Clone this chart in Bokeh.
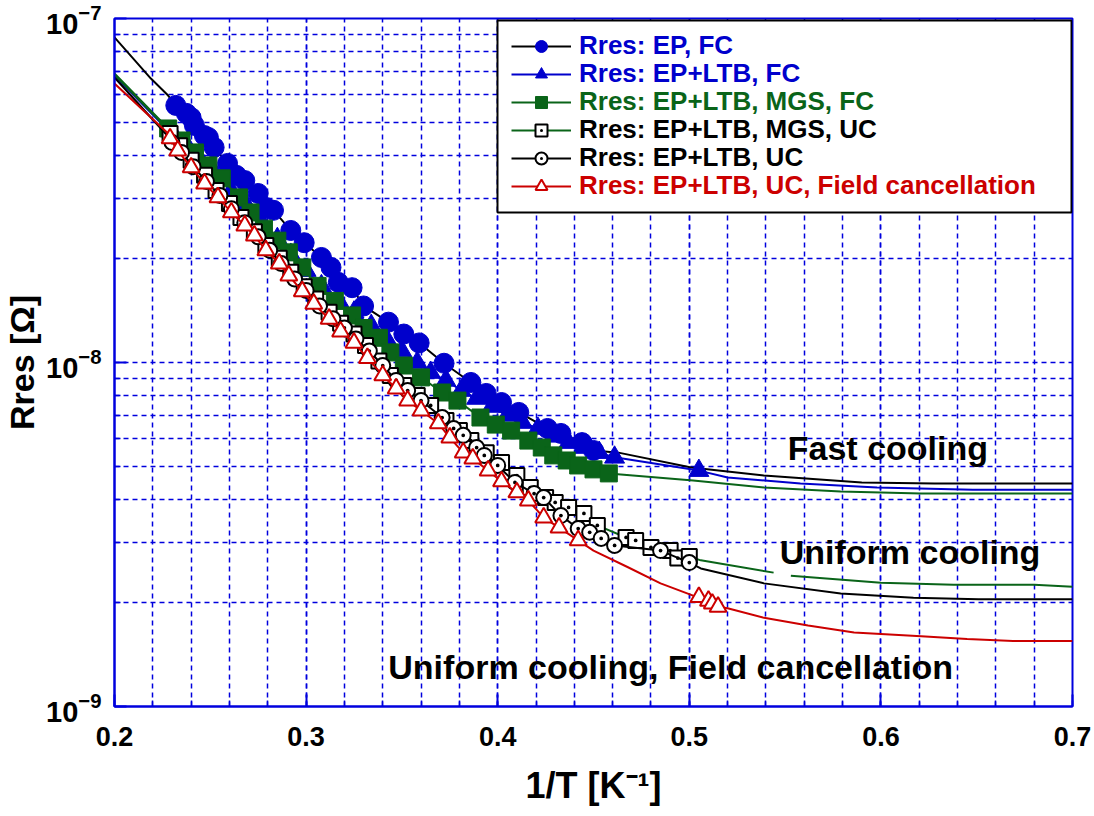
import numpy as np
from bokeh.plotting import figure
from bokeh.models import (Range1d, FixedTicker, LogTickFormatter, Legend, LegendItem,
                          Label, BoxAnnotation)
from bokeh.embed import file_html
from bokeh.resources import INLINE

FONT = "Liberation Sans"
BLUE = "#0000CC"
GREEN = "#0A6419"
RED = "#CC0000"
GRID = "#0000DD"

# ---------------- data (1/T in 1/K, Rres in Ohm) ----------------
# Rres: EP, FC
ep_fc_x = [0.232, 0.2375, 0.240, 0.2417, 0.2469, 0.249, 0.252, 0.259, 0.2636, 0.268, 0.275,
           0.2792, 0.283, 0.292, 0.299, 0.308, 0.313, 0.3168, 0.324, 0.330, 0.343, 0.351, 0.359,
           0.372, 0.386, 0.394, 0.402, 0.411, 0.426, 0.433, 0.444, 0.450]
ep_fc_y = [5.59e-8, 5.30e-8, 5.15e-8, 4.89e-8, 4.57e-8, 4.51e-8, 4.22e-8, 3.79e-8, 3.50e-8,
           3.38e-8, 3.10e-8, 2.82e-8, 2.77e-8, 2.42e-8, 2.23e-8, 2.02e-8, 1.89e-8, 1.71e-8,
           1.65e-8, 1.46e-8, 1.31e-8, 1.21e-8, 1.14e-8, 9.95e-9, 8.75e-9, 8.13e-9, 7.65e-9,
           7.16e-9, 6.43e-9, 6.22e-9, 5.85e-9, 5.55e-9]
ep_fc_lead_x = [0.200, 0.219, 0.228]
ep_fc_lead_y = [8.81e-8, 6.69e-8, 5.97e-8]
ep_fc_tail_x = [0.463, 0.501, 0.539, 0.590, 0.628, 0.700]
ep_fc_tail_y = [5.47e-9, 4.95e-9, 4.69e-9, 4.48e-9, 4.45e-9, 4.45e-9]

# Rres: EP+LTB, FC
ltb_fc_x = [0.230, 0.238, 0.245, 0.253, 0.261, 0.269, 0.277, 0.285, 0.292, 0.300, 0.308, 0.317,
            0.325, 0.334, 0.342, 0.350, 0.358, 0.365, 0.373, 0.381, 0.389, 0.397, 0.405, 0.413,
            0.421, 0.429, 0.437, 0.445, 0.453, 0.461, 0.505]
ltb_fc_y = [4.69e-8, 4.25e-8, 3.87e-8, 3.50e-8, 3.16e-8, 2.86e-8, 2.55e-8, 2.29e-8, 2.06e-8,
            1.85e-8, 1.67e-8, 1.51e-8, 1.40e-8, 1.28e-8, 1.17e-8, 1.08e-8, 1.00e-8, 9.35e-9,
            8.87e-9, 8.29e-9, 7.86e-9, 7.45e-9, 7.02e-9, 6.69e-9, 6.43e-9, 6.10e-9, 5.85e-9,
            5.66e-9, 5.47e-9, 5.30e-9, 4.85e-9]
ltb_fc_lead_x = [0.200, 0.227]
ltb_fc_lead_y = [6.83e-8, 4.79e-8]
ltb_fc_tail_x = [0.520, 0.558, 0.598, 0.648, 0.700]
ltb_fc_tail_y = [4.63e-9, 4.45e-9, 4.33e-9, 4.27e-9, 4.27e-9]

# Rres: EP+LTB, MGS, FC
mgs_fc_x = [0.228, 0.235, 0.242, 0.249, 0.256, 0.265, 0.271, 0.278, 0.285, 0.291, 0.298, 0.306,
            0.315, 0.324, 0.330, 0.338, 0.344, 0.351, 0.360, 0.371, 0.379, 0.391, 0.399, 0.407,
            0.416, 0.423, 0.429, 0.436, 0.442, 0.450, 0.458]
mgs_fc_y = [4.79e-8, 4.42e-8, 4.08e-8, 3.74e-8, 3.43e-8, 3.02e-8, 2.73e-8, 2.45e-8, 2.26e-8,
            2.09e-8, 1.89e-8, 1.67e-8, 1.51e-8, 1.37e-8, 1.26e-8, 1.18e-8, 1.07e-8, 9.80e-9,
            9.05e-9, 8.18e-9, 7.75e-9, 6.92e-9, 6.60e-9, 6.34e-9, 5.93e-9, 5.66e-9, 5.37e-9,
            5.19e-9, 5.02e-9, 4.89e-9, 4.76e-9]
mgs_fc_lead_x = [0.200, 0.226]
mgs_fc_lead_y = [6.92e-8, 4.92e-8]
mgs_fc_tail_x = [0.502, 0.539, 0.579, 0.621, 0.700]
mgs_fc_tail_y = [4.54e-9, 4.33e-9, 4.22e-9, 4.16e-9, 4.16e-9]

# Rres: EP+LTB, MGS, UC
mgs_uc_x = [0.229, 0.234, 0.240, 0.247, 0.253, 0.260, 0.266, 0.273, 0.279, 0.286, 0.292, 0.299,
            0.305, 0.312, 0.318, 0.325, 0.331, 0.338, 0.344, 0.351, 0.358, 0.365, 0.373, 0.380,
            0.386, 0.394, 0.402, 0.410, 0.417, 0.425, 0.430, 0.437, 0.445, 0.452, 0.467, 0.472,
            0.480, 0.490, 0.494, 0.500]
mgs_uc_y = [4.63e-8, 4.27e-8, 3.87e-8, 3.50e-8, 3.16e-8, 2.90e-8, 2.64e-8, 2.40e-8, 2.19e-8,
            2.01e-8, 1.83e-8, 1.66e-8, 1.53e-8, 1.40e-8, 1.30e-8, 1.21e-8, 1.12e-8, 1.01e-8,
            9.17e-9, 8.57e-9, 8.02e-9, 7.50e-9, 6.78e-9, 6.34e-9, 5.93e-9, 5.47e-9, 5.12e-9,
            4.69e-9, 4.33e-9, 4.05e-9, 3.92e-9, 3.79e-9, 3.64e-9, 3.36e-9, 3.10e-9, 3.04e-9,
            2.90e-9, 2.84e-9, 2.70e-9, 2.73e-9]
mgs_uc_lead_x = [0.200, 0.227]
mgs_uc_lead_y = [6.87e-8, 4.82e-8]
mgs_uc_tail_x = [0.506, 0.544, 0.548, 0.553, 0.600, 0.638, 0.680, 0.700]
mgs_uc_tail_y = [2.66e-9, 2.45e-9, float("nan"), 2.40e-9, 2.29e-9, 2.26e-9, 2.26e-9, 2.23e-9]

# Rres: EP+LTB, UC
ltb_uc_x = [0.230, 0.235, 0.241, 0.248, 0.255, 0.261, 0.268, 0.275, 0.281, 0.287, 0.294, 0.300,
            0.307, 0.314, 0.320, 0.326, 0.333, 0.340, 0.347, 0.353, 0.360, 0.371, 0.377, 0.382,
            0.389, 0.393, 0.400, 0.409, 0.419, 0.424, 0.433, 0.442, 0.448, 0.454, 0.461, 0.485,
            0.500]
ltb_uc_y = [4.36e-8, 4.08e-8, 3.71e-8, 3.36e-8, 3.06e-8, 2.80e-8, 2.55e-8, 2.32e-8, 2.12e-8,
            1.94e-8, 1.75e-8, 1.62e-8, 1.46e-8, 1.34e-8, 1.26e-8, 1.17e-8, 1.08e-8, 9.80e-9,
            8.87e-9, 8.29e-9, 7.75e-9, 6.92e-9, 6.43e-9, 6.14e-9, 5.66e-9, 5.37e-9, 5.02e-9,
            4.48e-9, 4.16e-9, 4.05e-9, 3.59e-9, 3.29e-9, 3.21e-9, 3.08e-9, 2.94e-9, 2.84e-9,
            2.62e-9]
ltb_uc_lead_x = [0.200, 0.228]
ltb_uc_lead_y = [6.74e-8, 4.54e-8]
ltb_uc_tail_x = [0.506, 0.539, 0.579, 0.617, 0.651, 0.700]
ltb_uc_tail_y = [2.52e-9, 2.28e-9, 2.13e-9, 2.07e-9, 2.05e-9, 2.05e-9]

# Rres: EP+LTB, UC, Field cancellation
fcan_x = [0.229, 0.233, 0.240, 0.247, 0.254, 0.261, 0.268, 0.273, 0.279, 0.286, 0.291, 0.298,
          0.304, 0.312, 0.318, 0.325, 0.332, 0.340, 0.347, 0.353, 0.360, 0.369, 0.375, 0.382,
          0.387, 0.395, 0.402, 0.410, 0.416, 0.424, 0.432, 0.442, 0.505, 0.510, 0.512, 0.515]
fcan_y = [4.48e-8, 4.13e-8, 3.69e-8, 3.31e-8, 3.02e-8, 2.73e-8, 2.50e-8, 2.34e-8, 2.12e-8,
          1.94e-8, 1.79e-8, 1.61e-8, 1.48e-8, 1.34e-8, 1.23e-8, 1.14e-8, 1.03e-8, 9.17e-9,
          8.40e-9, 7.75e-9, 7.25e-9, 6.65e-9, 6.05e-9, 5.47e-9, 5.26e-9, 4.85e-9, 4.51e-9,
          4.19e-9, 3.97e-9, 3.54e-9, 3.31e-9, 3.04e-9, 2.08e-9, 2.03e-9, 1.99e-9, 1.95e-9]
fcan_lead_x = [0.200, 0.228]
fcan_lead_y = [6.47e-8, 4.63e-8]
fcan_tail_x = [0.450, 0.468, 0.485, 0.502, 0.520, 0.539, 0.562, 0.586, 0.621, 0.645, 0.669, 0.700]
fcan_tail_y = [2.84e-9, 2.54e-9, 2.28e-9, 2.10e-9, 1.93e-9, 1.81e-9, 1.72e-9, 1.64e-9, 1.60e-9,
               1.57e-9, 1.55e-9, 1.55e-9]

labels = ["Rres: EP, FC", "Rres: EP+LTB, FC", "Rres: EP+LTB, MGS, FC",
          "Rres: EP+LTB, MGS, UC", "Rres: EP+LTB, UC", "Rres: EP+LTB, UC, Field cancellation"]

x_major = [0.2, 0.3, 0.4, 0.5, 0.6, 0.7]
x_minor = [round(0.2 + 0.02 * i, 2) for i in range(26)]
y_major = [1e-9, 1e-8, 1e-7]
y_minor = [k * 10.0 ** e for e in (-9, -8) for k in range(2, 10)]

annotations = [("Fast cooling", 0.5514, 5.66e-9),
               ("Uniform cooling", 0.5472, 2.82e-9),
               ("Uniform cooling, Field cancellation", 0.3429, 1.30e-9)]


def merged(lx, ly, mx, my, tx, ty):
    pts = sorted(zip(lx + mx + tx, ly + my + ty), key=lambda t: t[0])
    return np.array([a for a, _ in pts]), np.array([b for _, b in pts])


p = figure(width=1094, height=816, y_axis_type="log",
           x_range=Range1d(0.2, 0.7), y_range=Range1d(1e-9, 1e-7),
           output_backend="svg", toolbar_location=None,
           min_border_left=113, min_border_right=22, min_border_top=18, min_border_bottom=110)
p.background_fill_color = "white"
p.border_fill_color = "white"
p.outline_line_color = GRID
p.outline_line_width = 2

series = [
    (ep_fc_lead_x, ep_fc_lead_y, ep_fc_x, ep_fc_y, ep_fc_tail_x, ep_fc_tail_y,
     "black", "circle", BLUE, BLUE, 20, 1, BLUE),
    (ltb_fc_lead_x, ltb_fc_lead_y, ltb_fc_x, ltb_fc_y, ltb_fc_tail_x, ltb_fc_tail_y,
     BLUE, "triangle", BLUE, BLUE, 20, 1, BLUE),
    (mgs_fc_lead_x, mgs_fc_lead_y, mgs_fc_x, mgs_fc_y, mgs_fc_tail_x, mgs_fc_tail_y,
     GREEN, "square", GREEN, GREEN, 17, 1, GREEN),
    (mgs_uc_lead_x, mgs_uc_lead_y, mgs_uc_x, mgs_uc_y, mgs_uc_tail_x, mgs_uc_tail_y,
     GREEN, "square_dot", "white", "black", 15, 2, "black"),
    (ltb_uc_lead_x, ltb_uc_lead_y, ltb_uc_x, ltb_uc_y, ltb_uc_tail_x, ltb_uc_tail_y,
     "black", "circle_dot", "white", "black", 15, 2, "black"),
    (fcan_lead_x, fcan_lead_y, fcan_x, fcan_y, fcan_tail_x, fcan_tail_y,
     RED, "triangle", "white", RED, 17, 2, RED),
]

renderer_sets = []
for (lx, ly, mx, my, tx, ty, lcol, mk, mfill, mline, msize, mlw, tcol) in series:
    xs, ys = merged(lx, ly, mx, my, tx, ty)
    lr = p.line(x=xs, y=ys, line_color=lcol, line_width=2)
    sr = p.scatter(x=mx, y=my, marker=mk, size=msize, fill_color=mfill,
                   line_color=mline, line_width=mlw)
    renderer_sets.append((lr, sr, tcol))

# axes
for ax in (p.xaxis[0], p.yaxis[0]):
    ax.axis_line_color = GRID
    ax.axis_line_width = 2
    ax.major_tick_line_color = GRID
    ax.minor_tick_line_color = GRID
    ax.major_tick_line_width = 2
    ax.minor_tick_line_width = 1.5
    ax.major_tick_in = 12
    ax.major_tick_out = 0
    ax.minor_tick_in = 6
    ax.minor_tick_out = 0
    ax.major_label_text_font = FONT
    ax.major_label_text_font_style = "bold"
    ax.major_label_text_color = "black"
    ax.axis_label_text_font = FONT
    ax.axis_label_text_font_style = "bold"
    ax.axis_label_text_font_size = "34px"
    ax.axis_label_text_color = "black"

p.xaxis.ticker = FixedTicker(ticks=x_major, minor_ticks=x_minor)
p.yaxis.ticker = FixedTicker(ticks=y_major, minor_ticks=y_minor)
p.yaxis.formatter = LogTickFormatter()
p.xaxis.major_label_text_font_size = "27px"
p.yaxis.major_label_text_font_size = "29px"
p.xaxis.major_label_standoff = 20
p.yaxis.major_label_standoff = 13
p.xaxis.axis_label = "1/T [K\u207b\u00b9]"
p.xaxis.axis_label_text_font_size = "36px"
p.yaxis.axis_label = "Rres [\u03a9]"
p.xaxis.axis_label_standoff = 16
p.yaxis.axis_label_standoff = 2

for g in (p.xgrid[0], p.ygrid[0]):
    g.grid_line_color = GRID
    g.grid_line_dash = "5 4"
    g.grid_line_width = 1.5
    g.minor_grid_line_color = GRID
    g.minor_grid_line_dash = "5 4"
    g.minor_grid_line_width = 1.5

# text annotations
for txt, x, y in annotations:
    p.add_layout(Label(x=x, y=y, text=txt, text_baseline="middle", text_font=FONT,
                       text_font_style="bold", text_font_size="34px", text_color="black"))

# legend box
p.add_layout(BoxAnnotation(left=383, right=957, top=686, bottom=494,
                           left_units="screen", right_units="screen",
                           top_units="screen", bottom_units="screen",
                           fill_color="white", fill_alpha=1.0,
                           line_color="black", line_alpha=1.0, line_width=2,
                           level="annotation"))

for i, ((lr, sr, tcol), lab) in enumerate(zip(renderer_sets, labels)):
    lg = Legend(items=[LegendItem(label=lab, renderers=[lr, sr])],
                location=(397, 645 - 28 * i), padding=0, spacing=0, margin=0,
                border_line_alpha=0, background_fill_alpha=0,
                label_text_color=tcol, label_text_font=FONT, label_text_font_style="bold",
                label_text_font_size="26px", glyph_width=60, glyph_height=30,
                label_height=30, label_standoff=8)
    p.add_layout(lg)

open("out.html", "w").write(file_html(p, INLINE))
